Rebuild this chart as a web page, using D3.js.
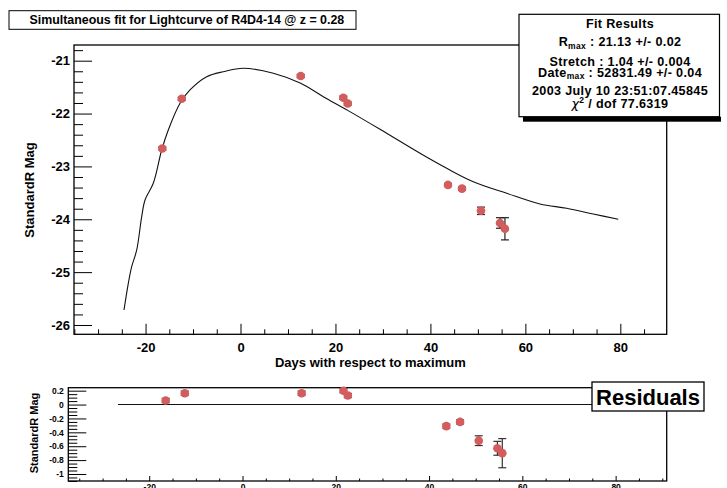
<!DOCTYPE html>
<html>
<head>
<meta charset="utf-8">
<script src="https://cdn.jsdelivr.net/npm/d3@7"></script>
<style>
  html, body { margin: 0; padding: 0; background: #fff; }
  svg { display: block; font-family: "Liberation Sans", Arial, Helvetica, sans-serif; font-weight: bold; }
</style>
</head>
<body>
<svg id="chart" width="727" height="488"></svg>
<script>
// ---------------- data ----------------
const obsDays   = [-16.47, -12.38, 12.68, 21.65, 22.58, 43.70, 46.65, 50.65, 54.65, 55.70];
const obsMags   = [-22.66, -21.72, -21.29, -21.70, -21.81, -23.35, -23.42, -23.84, -24.07, -24.18];
const obsErr    = [0.03, 0.03, 0.03, 0.03, 0.03, 0.03, 0.03, 0.07, 0.10, 0.21];
const residVals = [0.058, 0.164, 0.164, 0.20, 0.13, -0.31, -0.25, -0.52, -0.63, -0.70];

const fitDays = [-24.54, -23.63, -22.92, -21.86, -20.81, -20.11, -18.37, -16.60, -15.21, -12.74, -10.64,
                 -7.12, -3.62, 0.59, 6.91, 12.68, 17.44, 22.58, 29.38, 37.81, 43.43, 49.03,
                 56.07, 63.08, 68.70, 74.30, 79.57];
const fitMags = [-25.716, -25.211, -24.897, -24.581, -23.951, -23.635, -23.319, -22.689, -22.311, -21.806, -21.554,
                 -21.303, -21.208, -21.144, -21.238, -21.428, -21.681, -21.940, -22.298, -22.752, -23.036, -23.289,
                 -23.509, -23.711, -23.792, -23.900, -24.000];

const zeroLineDays = [-26.7, 79.6];

const xMajorTicks = [-20, 0, 20, 40, 60, 80];
const mainYTicks  = [-26, -25, -24, -23, -22, -21];
const residYTicks = [-1, -0.8, -0.6, -0.4, -0.2, 0, 0.2];
const residYLabels = ["-1", "-0.8", "-0.6", "-0.4", "-0.2", "0", "0.2"];

const titleText = "Simultaneous fit for Lightcurve of R4D4-14 @ z = 0.28";
const xTitle = "Days with respect to maximum";
const yTitle = "StandardR Mag";

// ---------------- layout ----------------
const svg = d3.select("#chart");
const markerColor = "#d35d5d";
const fontFam = "Liberation Sans, Arial, sans-serif";
const hyphen = d => String(d);

const main = { left: 74, right: 666.7, top: 45, bottom: 334.3 };
const res  = { left: 68.3, right: 666.7, top: 387.7, bottom: 481 };

const xMain = d3.scaleLinear().domain([-35.07, 89.77]).range([main.left, main.right]);
const yMain = d3.scaleLinear().domain([-26.176, -20.703]).range([main.bottom, main.top]);
const xRes  = d3.scaleLinear().domain([-37.35, 90.95]).range([res.left, res.right]);
const yRes  = d3.scaleLinear().domain([-1.101, 0.243]).range([res.bottom, res.top]);

function rangeStep(a, b, s) { const out = []; for (let v = a; v <= b + 1e-9; v += s) out.push(+v.toFixed(4)); return out; }

// ---------------- main pad ----------------
const gMain = svg.append("g");

const mainYMinor = rangeStep(-26.2, -20.6, 0.2).filter(v => v >= yMain.domain()[0] && v <= yMain.domain()[1] && !mainYTicks.some(t => Math.abs(t - v) < 1e-6));
gMain.append("g").attr("transform", `translate(${main.left},0)`)
  .call(d3.axisLeft(yMain).tickValues(mainYMinor).tickSize(-9).tickFormat(""))
  .call(g => g.select(".domain").remove());
gMain.append("g").attr("transform", `translate(${main.left},0)`)
  .call(d3.axisLeft(yMain).tickValues(mainYTicks).tickSize(-18).tickPadding(4).tickFormat(hyphen))
  .call(g => g.select(".domain").remove())
  .call(g => g.selectAll("text").attr("font-size", 13).attr("font-weight", "bold").attr("font-family", fontFam));

const xMinorMain = rangeStep(-35, 85, 5).filter(v => !xMajorTicks.includes(v) && v >= xMain.domain()[0] && v <= xMain.domain()[1]);
gMain.append("g").attr("transform", `translate(0,${main.bottom})`)
  .call(d3.axisBottom(xMain).tickValues(xMinorMain).tickSize(-5).tickFormat(""))
  .call(g => g.select(".domain").remove());
gMain.append("g").attr("transform", `translate(0,${main.bottom})`)
  .call(d3.axisBottom(xMain).tickValues(xMajorTicks).tickSize(-10.5).tickPadding(8.5).tickFormat(hyphen))
  .call(g => g.select(".domain").remove())
  .call(g => g.selectAll("text").attr("font-size", 13).attr("font-weight", "bold").attr("font-family", fontFam));

gMain.append("rect").attr("x", main.left).attr("y", main.top)
  .attr("width", main.right - main.left).attr("height", main.bottom - main.top)
  .attr("fill", "none").attr("stroke", "#000").attr("stroke-width", 1.3);

// fit curve
const lineMain = d3.line().curve(d3.curveCatmullRom.alpha(0.5))
  .x((d, i) => xMain(fitDays[i])).y((d, i) => yMain(fitMags[i]));
gMain.append("path").datum(fitDays).attr("d", lineMain)
  .attr("fill", "none").attr("stroke", "#111").attr("stroke-width", 1.1);

// error bars + markers
const capW = 4;
const ebMain = gMain.append("g").attr("stroke", "#222").attr("stroke-width", 1.2);
obsDays.forEach((d, i) => {
  const x = xMain(d), y1 = yMain(obsMags[i] + obsErr[i]), y2 = yMain(obsMags[i] - obsErr[i]);
  ebMain.append("line").attr("x1", x).attr("x2", x).attr("y1", y1).attr("y2", y2);
  ebMain.append("line").attr("x1", x - capW).attr("x2", x + capW).attr("y1", y1).attr("y2", y1);
  ebMain.append("line").attr("x1", x - capW).attr("x2", x + capW).attr("y1", y2).attr("y2", y2);
});
gMain.append("g").selectAll("circle").data(obsDays).join("circle")
  .attr("cx", d => xMain(d)).attr("cy", (d, i) => yMain(obsMags[i])).attr("r", 4.3)
  .attr("fill", markerColor);

// axis titles
svg.append("text").attr("x", (main.left + main.right) / 2).attr("y", 367)
  .attr("text-anchor", "middle").attr("font-size", 13).text(xTitle);
svg.append("text").attr("transform", `translate(33.5,190) rotate(-90)`)
  .attr("text-anchor", "middle").attr("font-size", 13).text(yTitle);

// title box
svg.append("rect").attr("x", 9).attr("y", 10.7).attr("width", 347).attr("height", 18.6)
  .attr("fill", "#fff").attr("stroke", "#000").attr("stroke-width", 1);
svg.append("text").attr("x", 29.5).attr("y", 24).attr("font-size", 12.4).text(titleText);

// fit results box
svg.append("rect").attr("x", 523).attr("y", 116.7).attr("width", 198).attr("height", 5).attr("fill", "#000");
svg.append("rect").attr("x", 519).attr("y", 14.3).attr("width", 200.5).attr("height", 102.4)
  .attr("fill", "#fff").attr("stroke", "#000").attr("stroke-width", 1.2);
const cx = 620;
const fr = svg.append("g").attr("text-anchor", "middle").attr("font-size", 12.6).attr("letter-spacing", 0.35);
fr.append("text").attr("x", cx).attr("y", 28).text("Fit Results");
const t1 = fr.append("text").attr("x", cx).attr("y", 46);
t1.append("tspan").text("R");
t1.append("tspan").attr("font-size", 8.5).attr("dy", 2.5).text("max");
t1.append("tspan").attr("dy", -2.5).text(" : 21.13 +/- 0.02");
fr.append("text").attr("x", cx).attr("y", 65.5).text("Stretch : 1.04 +/- 0.004");
const t2 = fr.append("text").attr("x", cx).attr("y", 76.8);
t2.append("tspan").text("Date");
t2.append("tspan").attr("font-size", 8.5).attr("dy", 2.5).text("max");
t2.append("tspan").attr("dy", -2.5).text(" : 52831.49 +/- 0.04");
fr.append("text").attr("x", cx).attr("y", 95).text("2003 July 10 23:51:07.45845");
const t3 = fr.append("text").attr("x", cx).attr("y", 108);
t3.append("tspan").attr("font-family", "DejaVu Sans").attr("font-style", "italic").attr("font-weight", "normal").text("χ");
t3.append("tspan").attr("font-size", 8.5).attr("dy", -5).text("2");
t3.append("tspan").attr("dy", 5).text(" / dof 77.6319");

// ---------------- residual pad ----------------
const gRes = svg.append("g");
const resYMinor = rangeStep(-1.1, 0.25, 0.05).filter(v => v >= yRes.domain()[0] && v <= yRes.domain()[1] && !residYTicks.some(t => Math.abs(t - v) < 1e-6));
gRes.append("g").attr("transform", `translate(${res.left},0)`)
  .call(d3.axisLeft(yRes).tickValues(resYMinor).tickSize(-9).tickFormat(""))
  .call(g => g.select(".domain").remove());
gRes.append("g").attr("transform", `translate(${res.left},0)`)
  .call(d3.axisLeft(yRes).tickValues(residYTicks).tickSize(-18).tickPadding(4.5).tickFormat((d, i) => residYLabels[i]))
  .call(g => g.select(".domain").remove())
  .call(g => g.selectAll("text").attr("font-size", 8.5).attr("font-weight", "bold").attr("font-family", fontFam));

const xMinorRes = rangeStep(-35, 90, 5).filter(v => !xMajorTicks.includes(v) && v >= xRes.domain()[0] && v <= xRes.domain()[1]);
gRes.append("g").attr("transform", `translate(0,${res.bottom})`)
  .call(d3.axisBottom(xRes).tickValues(xMinorRes).tickSize(-2.5).tickFormat(""))
  .call(g => g.select(".domain").remove());
gRes.append("g").attr("transform", `translate(0,${res.bottom})`)
  .call(d3.axisBottom(xRes).tickValues(xMajorTicks).tickSize(-5).tickPadding(2.5).tickFormat(hyphen))
  .call(g => g.select(".domain").remove())
  .call(g => g.selectAll("text").attr("font-size", 8.5).attr("font-weight", "bold").attr("font-family", fontFam));

gRes.append("rect").attr("x", res.left).attr("y", res.top)
  .attr("width", res.right - res.left).attr("height", res.bottom - res.top)
  .attr("fill", "none").attr("stroke", "#000").attr("stroke-width", 1.3);

gRes.append("line").attr("x1", xRes(zeroLineDays[0])).attr("x2", xRes(zeroLineDays[1]))
  .attr("y1", yRes(0)).attr("y2", yRes(0)).attr("stroke", "#111").attr("stroke-width", 1.1);

const ebRes = gRes.append("g").attr("stroke", "#333").attr("stroke-width", 1.2);
obsDays.forEach((d, i) => {
  const x = xRes(d), y1 = yRes(residVals[i] + obsErr[i]), y2 = yRes(residVals[i] - obsErr[i]);
  ebRes.append("line").attr("x1", x).attr("x2", x).attr("y1", y1).attr("y2", y2);
  ebRes.append("line").attr("x1", x - capW).attr("x2", x + capW).attr("y1", y1).attr("y2", y1);
  ebRes.append("line").attr("x1", x - capW).attr("x2", x + capW).attr("y1", y2).attr("y2", y2);
});
gRes.append("g").selectAll("circle").data(obsDays).join("circle")
  .attr("cx", d => xRes(d)).attr("cy", (d, i) => yRes(residVals[i])).attr("r", 4.3)
  .attr("fill", markerColor);

svg.append("text").attr("transform", `translate(37.5,433) rotate(-90)`)
  .attr("text-anchor", "middle").attr("font-size", 11).text(yTitle);

// Residuals label box
svg.append("rect").attr("x", 592).attr("y", 382).attr("width", 112).attr("height", 29)
  .attr("fill", "#fff").attr("stroke", "#000").attr("stroke-width", 1.3);
svg.append("text").attr("x", 648).attr("y", 405).attr("text-anchor", "middle").attr("font-size", 22).text("Residuals");
</script>
</body>
</html>
